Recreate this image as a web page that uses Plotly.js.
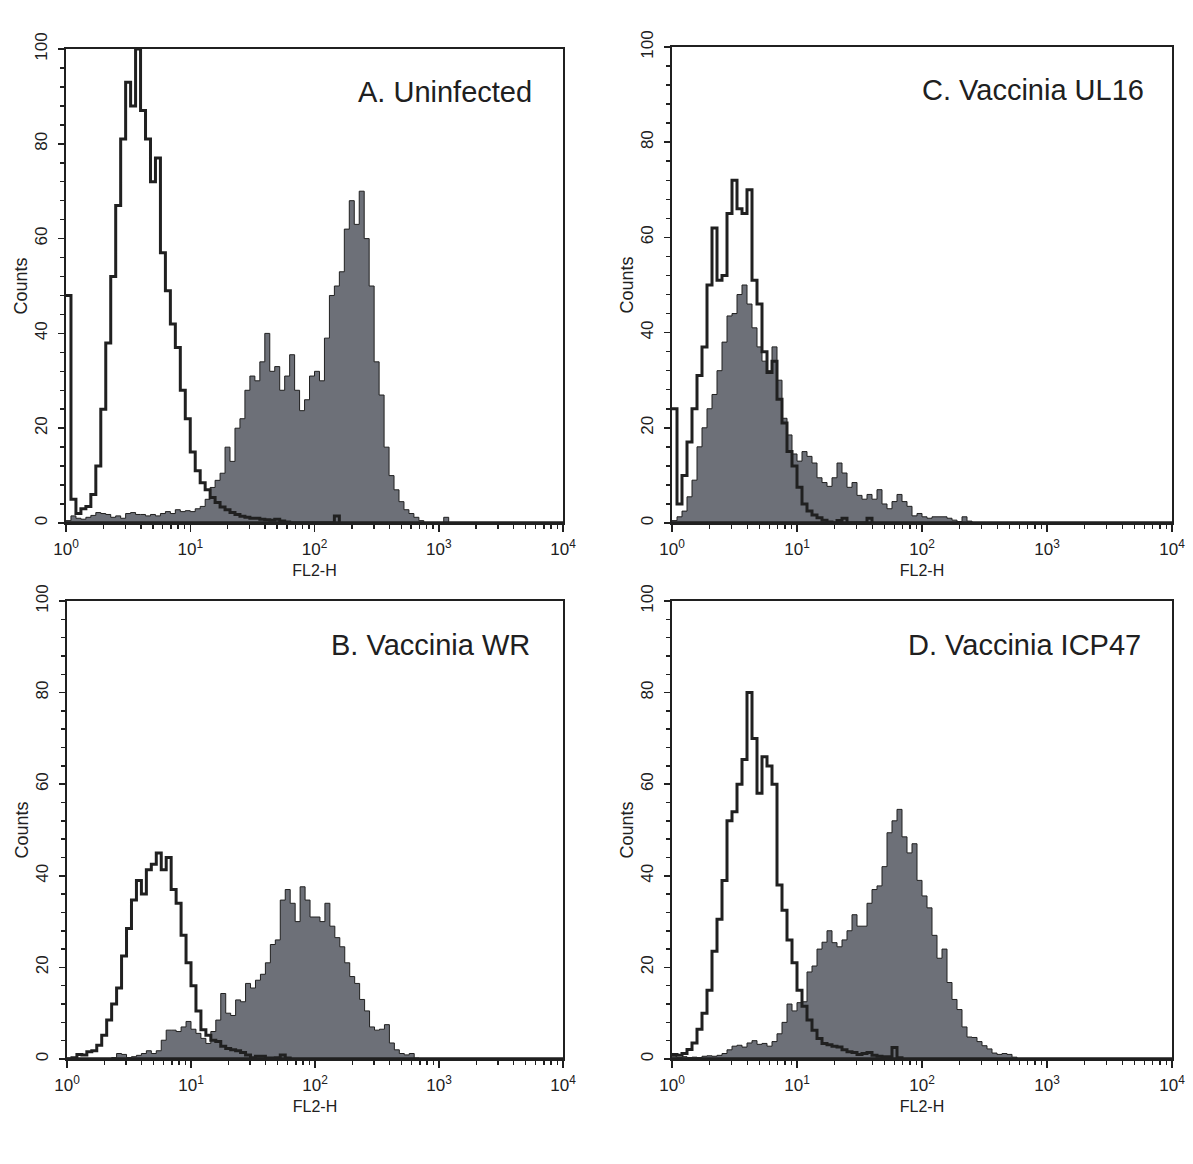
<!DOCTYPE html>
<html>
<head>
<meta charset="utf-8">
<script src="https://cdn.plot.ly/plotly-3.0.1.min.js"></script>
<style>html,body{margin:0;padding:0;background:#fff;}#chart{width:1193px;height:1164px;}</style>
</head>
<body>
<div id="chart"></div>
<script>
// Histogram channels: 25 channels per decade of FL2-H, counts per channel (left edge = 10^(i/25))
const channelsPerDecade = 25;

// Panel A. Uninfected
const uninfectedControl = [48,5,2,3,3.5,6,12,24,38,52,67,81,93,88,100,87,81,72,77,57,49,42,37,28,22,15,11,8.5,7,5.4,4.3,3.4,2.8,2.2,1.8,1.4,1.2,1,1,0.8,0.7,0.6,0.8,0.4,0.2,0,0,0,0,0,0,0,0,0,1.5,0];
const uninfectedStained = [0.5,1.5,1,0.8,1.2,1.6,2.2,2,1.8,1.2,1.5,1,2,2.2,1.8,1.8,1.5,1.8,1.5,2,2.4,2,2.8,2.4,2.6,2.4,3,3.5,5,7.5,9,10.5,16,13,20,22,28,31,30,34,40,32,33,28,31,35.5,28,23.7,26,31,32,30,39,48,50,53,62,68,63,70,60,50,34,27,16,10,7,4.5,2.8,2,1.2,0.5,0,0,0,0,1.2,0];

// Panel C. Vaccinia UL16
const ul16Control = [24,4,10,17,24,31,37,50,62,51,52,65,72,66,65,70,51,46,36,31.6,34,26,21,15,12,7.5,4,2.5,1.7,1.1,0.6,0.2,0,0.5,1,0,0,0,0,1,0];
const ul16Stained = [0.5,1.3,2.5,5.5,9,16,20,24,27,32,38,43.5,44,48,50,46,41,37,34,32,37,30,22,18.5,14.5,13,15,14,12.6,9.5,8.5,7.7,9.5,12.6,10.5,7.5,8.5,5.8,5,6,5,7,4,3,4.5,6,4.5,3.5,1.5,2,1.3,1,1.3,1.3,1.3,1,0.6,0.3,1.3,0.4,0];

// Panel B. Vaccinia WR
const wrControl = [0,0.3,1,0.9,1.6,1.8,3,5.2,8.5,12,15.5,22.5,28.5,34.7,39,36,41.3,42.5,45,41.3,44,37,34,27,21,16,10.5,6.4,5.2,4.1,3.8,2.8,2.3,2,1.8,1.4,0.9,0.3,0.6,0.6,0.2,0.2,0.3,0.9,0.2,0];
const wrStained = [0,0,0,0,0,0,0,0,0,0.3,1.2,1,0.3,0.5,0.8,1.2,1.8,1.2,1.8,4.1,6.3,6.3,6,7,8.2,6.5,5.6,4.5,3.4,6,8.5,14.3,10,9.5,12.9,12.5,16.5,15.5,17.2,18.5,21,25,26,34.7,37,34,30,37.6,34.7,31,31,30,34,29,26.5,24.5,21,18,16.5,13,10.5,7,6.3,6.5,7.5,3.5,2,1.2,0.9,1.2,0.2,0];

// Panel D. Vaccinia ICP47
const icp47Control = [1,0.8,1.2,2.1,3.5,6.5,10,15,23.5,30.5,39,52,54,60,65.4,80,70,58,66,64,60,38,32.5,26,21,15,11.5,8.5,6.3,4.5,3.4,3.1,2.8,2.6,2,1.6,1.4,1,1.2,1.4,0.8,0.6,0.5,0.5,2.5,0.3,0];
const icp47Stained = [0.5,0.3,0.5,0.3,0.4,0.3,0.6,0.7,0.6,0.8,1.2,2,2.8,3,2.6,3.5,4,3.2,3.4,2.8,3.8,5.5,8,12,10.5,12.3,12.5,19,20.3,24,25.5,28,25.4,24.5,26,28,31.5,29,29,34,37,37.8,42,49.4,52,54.5,48.5,45,47,39,35.6,33,27,22,24,16.7,13,10.8,7,4.8,4.7,3.8,2.9,2.2,1.3,1,1.2,1,0.4,0];

const panelTitles = ['A. Uninfected', 'C. Vaccinia UL16', 'B. Vaccinia WR', 'D. Vaccinia ICP47'];
const xTickVals = [1, 10, 100, 1000, 10000];
const xTickText = ['10<sup>0</sup>', '10<sup>1</sup>', '10<sup>2</sup>', '10<sup>3</sup>', '10<sup>4</sup>'];
const xTitle = 'FL2-H';
const yTitle = 'Counts';

const FONT = 'Liberation Sans, Arial, Helvetica, sans-serif';
const INK = '#202020';
const FILL = '#6d7078';

function channelX(n) {
  const xs = [];
  for (let i = 0; i < n; i++) xs.push(Math.pow(10, i / channelsPerDecade));
  return xs;
}

const minorVals = [];
for (let d = 1; d <= 1000; d *= 10) for (let k = 2; k <= 9; k++) minorVals.push(k * d);

const W = 1193, H = 1164;
// pixel boxes [left, right, top, bottom]
const boxes = [
  [66, 563, 49, 523],
  [672, 1172, 47, 523],
  [67, 563, 601, 1059],
  [672, 1172, 601, 1059]
];
const series = [
  [uninfectedControl, uninfectedStained],
  [ul16Control, ul16Stained],
  [wrControl, wrStained],
  [icp47Control, icp47Stained]
];
const labelPos = [[534, 92], [1146, 90], [532, 645], [1143, 645]];

const traces = [];
const layout = {
  width: W, height: H,
  margin: {l: 0, r: 0, t: 0, b: 0},
  paper_bgcolor: '#fff', plot_bgcolor: '#fff',
  showlegend: false,
  font: {family: FONT, color: INK},
  annotations: [], shapes: []
};

boxes.forEach((b, k) => {
  const n = k + 1;
  const xa = n === 1 ? 'x' : 'x' + n;
  const ya = n === 1 ? 'y' : 'y' + n;
  const xk = n === 1 ? 'xaxis' : 'xaxis' + n;
  const yk = n === 1 ? 'yaxis' : 'yaxis' + n;
  const [ctrl, stain] = series[k];
  traces.push({
    type: 'scatter', mode: 'lines', x: channelX(stain.length), y: stain,
    xaxis: xa, yaxis: ya, line: {shape: 'hv', color: INK, width: 1},
    fill: 'tozeroy', fillcolor: FILL, hoverinfo: 'skip'
  });
  traces.push({
    type: 'scatter', mode: 'lines', x: channelX(ctrl.length), y: ctrl,
    xaxis: xa, yaxis: ya, line: {shape: 'hv', color: INK, width: 3},
    hoverinfo: 'skip'
  });
  layout[xk] = {
    type: 'log', range: [0, 4], domain: [b[0] / W, b[1] / W], anchor: ya,
    showline: true, mirror: true, linecolor: INK, linewidth: 2,
    showgrid: false, zeroline: false,
    ticks: 'outside', ticklen: 7, tickwidth: 1.5, tickcolor: INK,
    tickmode: 'array', tickvals: xTickVals, ticktext: xTickText,
    ticklabelstandoff: 3,
    minor: {tickmode: 'array', tickvals: minorVals, ticks: 'outside', ticklen: 4, tickwidth: 1.5, tickcolor: INK, showgrid: false},
    tickfont: {family: FONT, size: 17, color: INK},
    title: {text: xTitle, font: {family: FONT, size: 16, color: INK}, standoff: 6}
  };
  layout[yk] = {
    range: [0, 100], domain: [1 - b[3] / H, 1 - b[2] / H], anchor: xa,
    showline: true, mirror: true, linecolor: INK, linewidth: 2,
    showgrid: false, zeroline: false,
    ticks: 'outside', ticklen: 6, tickwidth: 1.5, tickcolor: INK,
    dtick: 20, tick0: 0, tickangle: -90,
    ticklabelstandoff: 4,
    minor: {dtick: 4, ticks: 'outside', ticklen: 4, tickwidth: 1.5, tickcolor: INK, showgrid: false},
    tickfont: {family: FONT, size: 17, color: INK},
    title: {text: yTitle, font: {family: FONT, size: 18, color: INK}, standoff: 0}
  };
  layout.shapes.push({
    type: 'line', xref: xa + ' domain', yref: ya, x0: 0, x1: 1, y0: 0, y1: 0,
    line: {color: INK, width: 3.5}
  });
  const lp = labelPos[k];
  layout.annotations.push({
    text: panelTitles[k], xref: 'paper', yref: 'paper',
    x: lp[0] / W, y: 1 - lp[1] / H, xanchor: 'right', yanchor: 'middle',
    showarrow: false, font: {family: FONT, size: 29, color: INK}
  });
});

Plotly.newPlot('chart', traces, layout, {staticPlot: true, displayModeBar: false});
</script>
</body>
</html>
